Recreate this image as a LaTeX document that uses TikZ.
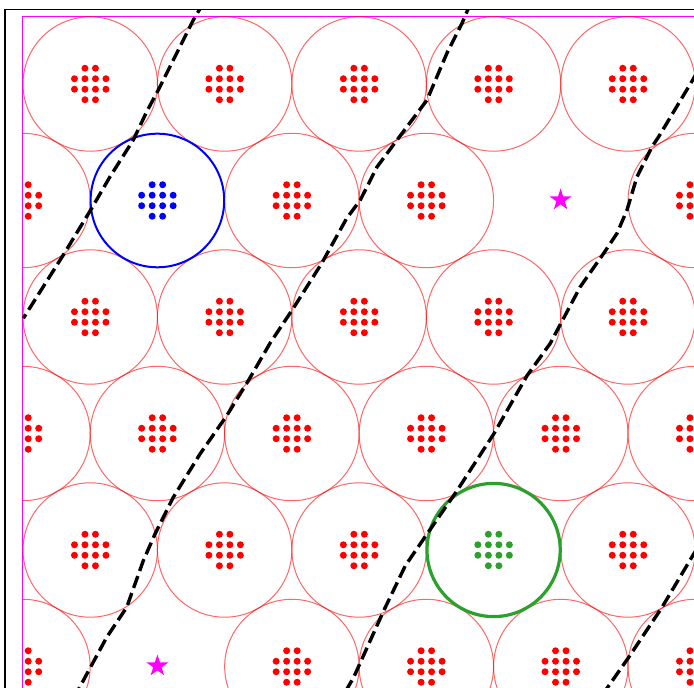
\documentclass[tikz,border=0pt]{standalone}
\usepackage{tikz}
\usetikzlibrary{shapes.geometric}
\definecolor{cellgreen}{RGB}{44,160,44}
\definecolor{fieldmag}{RGB}{255,0,255}
\definecolor{cellred}{RGB}{255,0,0}
\definecolor{servblue}{RGB}{0,0,255}

% 12 antenna dots of one cell: x, y, colour
\newcommand{\antcluster}[3]{%
  \foreach \dx/\dy in {-5.25/-15.75, 5.25/-15.75,
                       -15.75/-5.25, -5.25/-5.25, 5.25/-5.25, 15.75/-5.25,
                       -15.75/5.25, -5.25/5.25, 5.25/5.25, 15.75/5.25,
                       -5.25/15.75, 5.25/15.75}
    \fill[#3] ({#1+\dx},{#2+\dy}) circle[radius=1.75pt];
}

\begin{document}
\begin{tikzpicture}[x=0.5pt, y=-0.5pt,
  cell/.style={draw=cellred, draw opacity=0.6, line width=0.5pt},
  servcell/.style={draw=servblue, line width=1pt},
  usercell/.style={draw=cellgreen, line width=1.6pt},
  gapmark/.style={star, star points=5, star point ratio=2.618, fill=fieldmag,
                  draw=none, minimum size=11.5pt, inner sep=0pt},
  boundary/.style={black, line width=1.7pt, dash pattern=on 6.3pt off 2.7pt}
]
  \useasboundingbox (0,0) rectangle (694,688);
  \clip (0,0) rectangle (694,688);

  % axes frame
  \draw[black, line width=1.25pt] (5,9.5) -- (5,700);
  \draw[black, line width=0.65pt] (4,9.7) -- (700,9.7);

  % field border
  \draw[fieldmag, line width=0.75pt] (22.3,700) |- (700,16.3);

  % hexagonal cell layout
  \begin{scope}
    \clip (22.5,16.5) rectangle (700,700);
    \foreach \r in {0,...,5}
      \foreach \k in {0,...,5} {
        \pgfmathsetmacro\cx{90.2+134.45*\k-67.225*mod(\r,2)}
        \pgfmathsetmacro\cy{84+116.5*\r}
        \pgfmathtruncatemacro\cid{10*\r+\k}
        \ifnum\cid=11 \else\ifnum\cid=14 \else\ifnum\cid=43 \else\ifnum\cid=51 \else
          \draw[cell] (\cx,\cy) circle[radius=33.6pt];
          \antcluster{\cx}{\cy}{cellred}
        \fi\fi\fi\fi
      }

    % serving and user cells
    \draw[servcell] (157.4,200.5) circle[radius=33.4pt];
    \antcluster{157.4}{200.5}{servblue}
    \draw[usercell] (493.6,550) circle[radius=33.3pt];
    \antcluster{493.6}{550}{cellgreen}
  \end{scope}

  % empty sites
  \node[gapmark] (gapA) at (560.6,200) {};
  \node[gapmark] (gapB) at (157.4,666) {};

  % region boundaries
  \begin{scope}
    \clip (5,9.7) rectangle (700,700);
    \draw[boundary] plot coordinates {(204,2) (193.3,20) (158.3,90) (146.7,111.7)
      (133.3,140) (110,176.7) (91.7,208.3) (63.3,255) (23.3,318.3)};
    \draw[boundary] plot coordinates {(471,2) (462,23.3) (447,53) (427,100)
      (397,140) (377,167) (360.3,200) (346.7,218.3) (321.7,263.3) (293.3,308.3)
      (270,343.3) (248.3,380.7) (226.7,415.7) (200,454) (173.3,497.3) (155,534)
      (143.3,560.7) (126.7,607.3) (106.7,637.3) (76,694)};
    \draw[boundary] plot coordinates {(697,72) (693.7,78.3) (658.7,136.7)
      (652,146.7) (637,176.7) (627,210) (617,233.3) (603.7,253.3) (580.3,286.7)
      (550.3,343.3) (527,375.7) (493.7,434) (457,490.7) (427,534) (405.3,565.7)
      (383.7,610.7) (353.7,677.3) (344,694)};
    \draw[boundary] plot coordinates {(697,549) (693.7,554) (662,607.3)
      (628.7,657.3) (603,694)};
  \end{scope}
\end{tikzpicture}
\end{document}
